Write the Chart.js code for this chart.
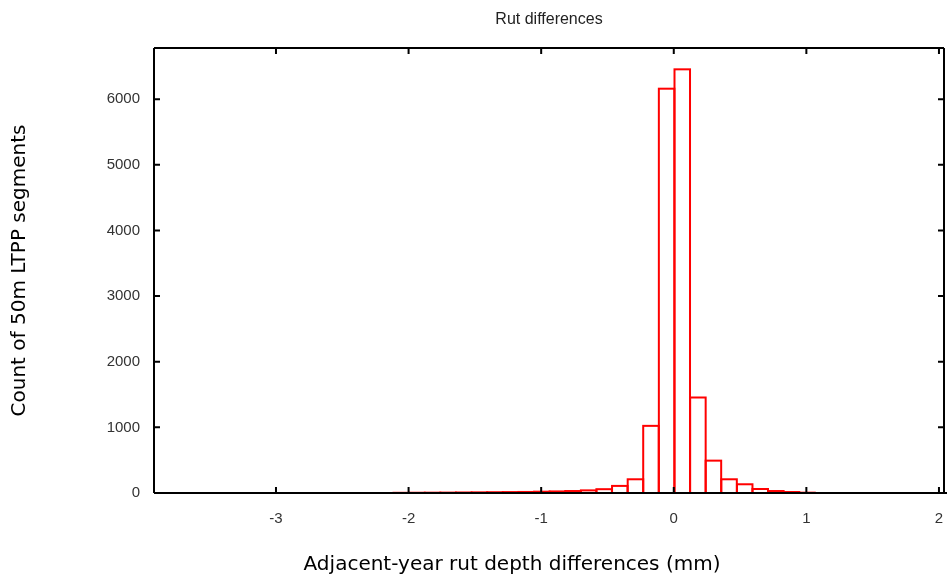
<!DOCTYPE html>
<html>
<head>
<meta charset="utf-8">
<script src="https://cdn.jsdelivr.net/npm/chart.js@4.4.1/dist/chart.umd.min.js"></script>
<style>
  html, body { margin: 0; padding: 0; background: #ffffff; }
  #wrap { width: 947px; height: 581px; }
</style>
</head>
<body>
<div id="wrap"><canvas id="c" width="947" height="581"></canvas></div>
<script>
// Histogram bin centres (mm)
const binCenters = [
  -2.055, -1.937, -1.819, -1.702, -1.584, -1.466, -1.349, -1.231, -1.113,
  -0.995, -0.878, -0.760, -0.642, -0.525, -0.407, -0.289, -0.172, -0.054,
   0.064,  0.182,  0.299,  0.417,  0.535,  0.652,  0.770,  0.888,  1.005
];
// Count of segments per bin
const counts = [
  3, 4, 5, 6, 8, 10, 12, 14, 16,
  20, 24, 30, 40, 58, 108, 209, 1023, 6160,
  6455, 1455, 493, 209, 133, 61, 30, 15, 5
];
const xTickValues = [-3, -2, -1, 0, 1, 2];
const yTickValues = [0, 1000, 2000, 3000, 4000, 5000, 6000];

const chartTitle = 'Rut differences';
const xTitle = 'Adjacent-year rut depth differences (mm)';
const yTitle = 'Count of 50m LTPP segments';

const framePlugin = {
  id: 'frame',
  afterDatasetsDraw(chart) {
    const ctx = chart.ctx;
    const ca = chart.chartArea;
    const xs = chart.scales.x, ys = chart.scales.y;
    const tl = 6;
    ctx.save();
    // histogram outlines, from the bar elements' own geometry
    ctx.beginPath();
    ctx.rect(ca.left, ca.top, ca.right - ca.left, ca.bottom - ca.top);
    ctx.clip();
    ctx.strokeStyle = '#ff0000';
    ctx.lineWidth = 2;
    chart.getDatasetMeta(0).data.forEach(el => {
      const p = el.getProps(['x', 'y', 'base', 'width'], true);
      ctx.strokeRect(p.x - p.width / 2, p.y, p.width, p.base - p.y);
    });
    ctx.restore();

    ctx.save();
    ctx.strokeStyle = '#000';
    ctx.lineWidth = 2;
    ctx.beginPath();
    ctx.moveTo(ca.left, ca.top); ctx.lineTo(ca.right, ca.top);
    ctx.moveTo(ca.left, ca.top); ctx.lineTo(ca.left, ca.bottom);
    ctx.moveTo(ca.right, ca.top); ctx.lineTo(ca.right, ca.bottom);
    ctx.moveTo(ca.left, ca.bottom); ctx.lineTo(chart.width, ca.bottom);
    xTickValues.forEach(v => {
      const px = xs.getPixelForValue(v);
      ctx.moveTo(px, ca.bottom); ctx.lineTo(px, ca.bottom - tl);
      ctx.moveTo(px, ca.top); ctx.lineTo(px, ca.top + tl);
    });
    yTickValues.forEach(v => {
      const py = ys.getPixelForValue(v);
      ctx.moveTo(ca.left, py); ctx.lineTo(ca.left + tl, py);
      ctx.moveTo(ca.right, py); ctx.lineTo(ca.right - tl, py);
    });
    ctx.stroke();
    // x-axis title (placed slightly left of the plot centre, as in the original)
    ctx.fillStyle = '#000';
    ctx.font = '20px "DejaVu Sans"';
    ctx.textAlign = 'center';
    ctx.textBaseline = 'middle';
    ctx.fillText(xTitle, 512, 565);
    ctx.restore();
  }
};

new Chart(document.getElementById('c'), {
  type: 'bar',
  data: {
    datasets: [{
      data: binCenters.map((x, i) => ({ x: x, y: counts[i] })),
      backgroundColor: 'rgba(255,255,255,0)',
      borderColor: 'rgba(255,0,0,0)',
      borderWidth: 0,
      inflateAmount: 0,
      barPercentage: 1.0,
      categoryPercentage: 1.0
    }]
  },
  options: {
    responsive: false,
    animation: false,
    layout: { padding: { left: 0, right: 3, top: 0, bottom: 0 } },
    plugins: {
      legend: { display: false },
      tooltip: { enabled: false },
      title: {
        display: true,
        text: chartTitle,
        fullSize: false,
        color: '#222',
        font: { family: 'Liberation Sans', size: 16, weight: 'normal' },
        padding: { top: 10, bottom: 18.8 }
      }
    },
    scales: {
      x: {
        type: 'linear',
        offset: false,
        min: -3.92,
        max: 2.038,
        grid: { display: false, drawTicks: false },
        border: { display: false },
        afterBuildTicks(scale) { scale.ticks = xTickValues.map(v => ({ value: v })); },
        afterFit(scale) {
          scale.height = 88;
          scale.paddingLeft = 0;
          scale.paddingRight = 0;
        },
        ticks: {
          autoSkip: false,
          maxRotation: 0,
          padding: 17,
          color: '#333',
          font: { family: 'Liberation Sans', size: 15 },
          callback: v => String(v)
        },
        title: { display: false }
      },
      y: {
        min: 0,
        max: 6780,
        grid: { display: false, drawTicks: false },
        border: { display: false },
        afterBuildTicks(scale) { scale.ticks = yTickValues.map(v => ({ value: v })); },
        afterFit(scale) {
          scale.width = 154;
          scale.paddingTop = 0;
          scale.paddingBottom = 0;
        },
        ticks: {
          autoSkip: false,
          padding: 14,
          color: '#333',
          font: { family: 'Liberation Sans', size: 15 },
          callback: v => String(v)
        },
        title: {
          display: true,
          text: yTitle,
          color: '#000',
          font: { family: 'DejaVu Sans', size: 20 },
          padding: { top: 8, bottom: 0 }
        }
      }
    }
  },
  plugins: [framePlugin]
});
</script>
</body>
</html>
